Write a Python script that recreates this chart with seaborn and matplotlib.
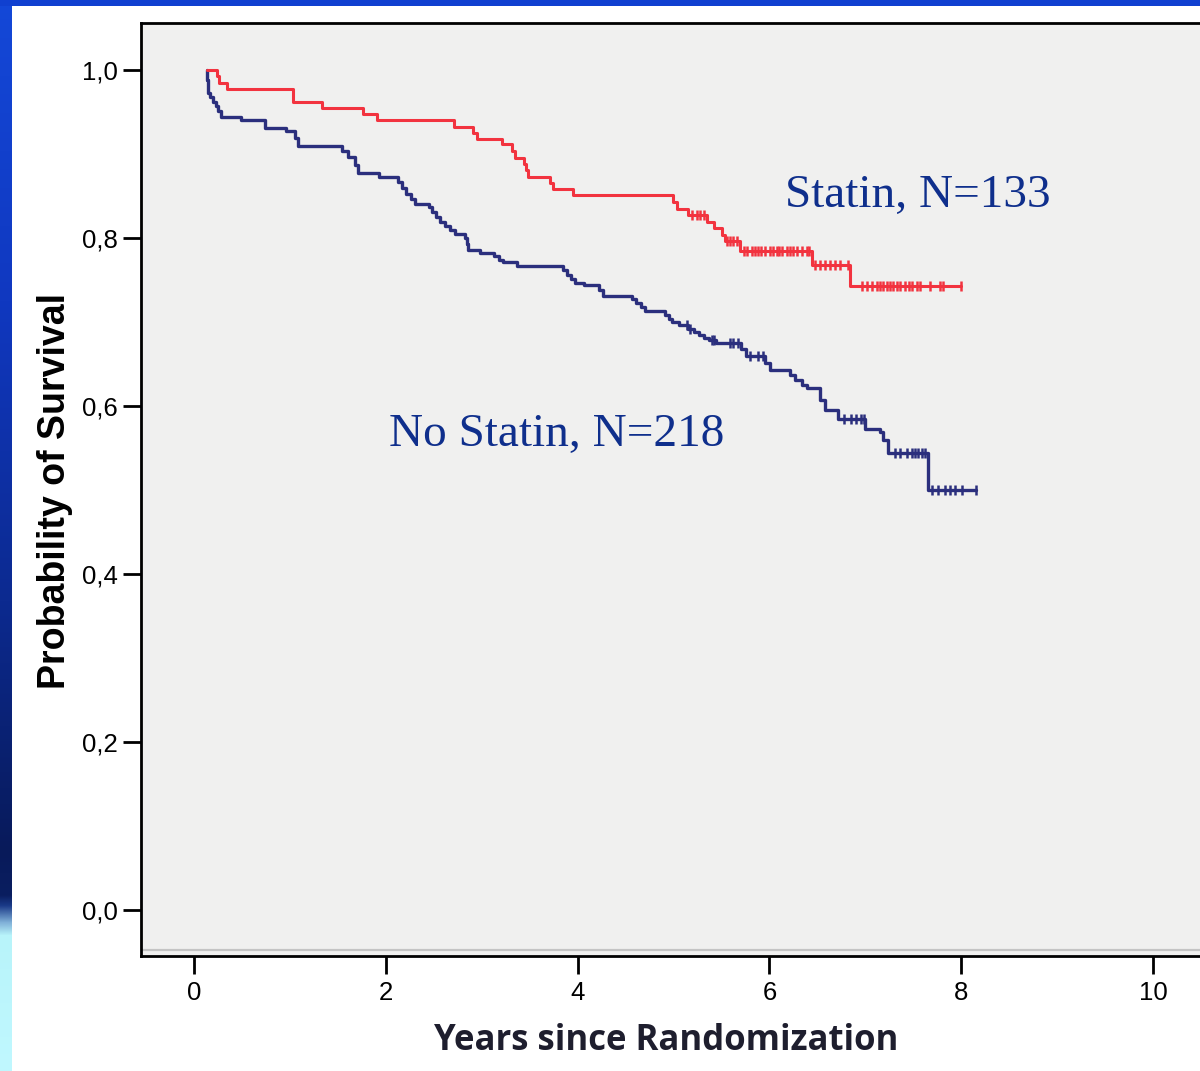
import numpy as np
import pandas as pd
import matplotlib
matplotlib.use("Agg")
import matplotlib.pyplot as plt
import seaborn as sns

# ---------------- data ----------------
statin_start = 0.136
statin_end = 7.995
statin_times = [0.235, 0.261, 0.344, 1.032, 1.335, 1.757, 1.913, 2.716, 2.914, 2.946,
                3.212, 3.316, 3.342, 3.436, 3.462, 3.483, 3.712, 3.743, 3.947, 4.998,
                5.040, 5.148, 5.346, 5.422, 5.503, 5.537, 5.693, 6.441, 6.840]
statin_surv = [0.993, 0.985, 0.978, 0.9625, 0.955, 0.948, 0.940, 0.932, 0.925, 0.918,
               0.912, 0.904, 0.895, 0.888, 0.881, 0.873, 0.866, 0.858, 0.851, 0.843,
               0.835, 0.827, 0.819, 0.812, 0.804, 0.796, 0.785, 0.768, 0.743]
statin_censor = [5.19, 5.24, 5.28, 5.32, 5.56, 5.59, 5.62, 5.66,
                 5.735, 5.766, 5.819, 5.850, 5.881, 5.912, 5.954, 6.006, 6.037, 6.079,
                 6.100, 6.131, 6.183, 6.215, 6.246, 6.288, 6.340, 6.392, 6.413,
                 6.476, 6.528, 6.580, 6.632, 6.684, 6.736, 6.819,
                 6.966, 7.018, 7.070, 7.122, 7.153, 7.185, 7.226, 7.258, 7.289, 7.331,
                 7.362, 7.414, 7.456, 7.487, 7.539, 7.570, 7.675, 7.779, 7.810, 7.995]

nostatin_start = 0.136
nostatin_end = 8.154
nostatin_times = [0.139, 0.144, 0.149, 0.167, 0.201, 0.229, 0.253, 0.278, 0.490, 0.735,
                  0.959, 1.053, 1.079, 1.548, 1.601, 1.679, 1.713, 1.929, 2.122, 2.169,
                  2.211, 2.263, 2.304, 2.445, 2.482, 2.518, 2.565, 2.617, 2.669, 2.722,
                  2.826, 2.847, 2.857, 2.987, 3.128, 3.175, 3.222, 3.368, 3.851, 3.889,
                  3.931, 3.973, 4.067, 4.218, 4.260, 4.562, 4.609, 4.656, 4.703, 4.906,
                  4.948, 4.984, 5.052, 5.151, 5.209, 5.261, 5.313, 5.365, 5.448, 5.704,
                  5.751, 5.954, 6.006, 6.215, 6.267, 6.337, 6.389, 6.528, 6.580, 6.718,
                  6.997, 7.153, 7.188, 7.240, 7.657]
nostatin_surv = [0.988, 0.980, 0.973, 0.968, 0.962, 0.957, 0.951, 0.944, 0.940, 0.931,
                 0.927, 0.919, 0.909, 0.904, 0.896, 0.887, 0.877, 0.873, 0.867, 0.860,
                 0.852, 0.846, 0.840, 0.837, 0.831, 0.825, 0.819, 0.814, 0.810, 0.805,
                 0.800, 0.793, 0.786, 0.782, 0.778, 0.774, 0.771, 0.767, 0.762, 0.756,
                 0.751, 0.746, 0.744, 0.7375, 0.7315, 0.727, 0.723, 0.718, 0.713, 0.708,
                 0.704, 0.700, 0.696, 0.692, 0.688, 0.685, 0.681, 0.678, 0.675, 0.668,
                 0.659, 0.651, 0.643, 0.637, 0.631, 0.625, 0.621, 0.607, 0.595, 0.585,
                 0.573, 0.569, 0.560, 0.544, 0.500]
nostatin_censor = [5.138, 5.172, 5.398, 5.42, 5.589, 5.620, 5.673, 5.797, 5.881, 5.933,
                   6.773, 6.846, 6.898, 6.950, 6.981,
                   7.310, 7.362, 7.435, 7.487, 7.518, 7.550, 7.591, 7.622,
                   7.696, 7.758, 7.831, 7.883, 7.935, 8.008, 8.154]

x_ticks = [0, 2, 4, 6, 8, 10]
y_ticks = [0.0, 0.2, 0.4, 0.6, 0.8, 1.0]
y_tick_labels = ["0,0", "0,2", "0,4", "0,6", "0,8", "1,0"]
label_statin = "Statin, N=133"
label_nostatin = "No Statin, N=218"
x_label = "Years since Randomization"
y_label = "Probability of Survival"

RED = "#f2333f"
NAVY = "#2b2f7d"
TEXT_BLUE = "#0f2f8c"

# ---------------- figure ----------------
sns.set_theme(style="white", rc={"axes.facecolor": "#f0f0ef"})
plt.rcParams["font.family"] = ["Liberation Sans", "DejaVu Sans"]

W, H = 1200, 1071
fig = plt.figure(figsize=(W / 100, H / 100), dpi=100, facecolor="white")

# decorative slide frame: left gradient strip + top strip
strip = fig.add_axes([0, 0, 12 / W, 1])
stops_y = [0, 300, 600, 850, 895, 905, 922, 935, 1071]
stops_c = ["#1448d8", "#1038c0", "#0c2a90", "#081a5a", "#0a1e60", "#1a3a88", "#80b0d8",
           "#b8f4fa", "#c0f8ff"]
rgb = np.array([matplotlib.colors.to_rgb(c) for c in stops_c])
yy = np.arange(H)
grad = np.stack([np.interp(yy, stops_y, rgb[:, k]) for k in range(3)], axis=1)
strip.imshow(grad[:, None, :], aspect="auto", extent=[0, 1, H, 0])
strip.set_axis_off()
top = fig.add_axes([0, 1 - 6 / H, 1, 6 / H])
top.set_facecolor("#1040d0")
top.set_xticks([]); top.set_yticks([])
for s in top.spines.values():
    s.set_visible(False)

# main axes: x from -0.553 to 10.6, left spine at px 141
x0, x1 = -0.553, 10.6
ax_left = 141 / W
ax_w = (x1 - x0) * 95.9 / W
ax_bottom = (H - 956) / H
ax_h = (956 - 23) / H
ax = fig.add_axes([ax_left, ax_bottom, ax_w, ax_h])
ax.set_xlim(x0, x1)
ax.set_ylim(-0.055, 1.056)


def curve(start, end, times, surv):
    x = [start] + list(times) + [end]
    y = [1.0] + list(surv) + [surv[-1]]
    return pd.DataFrame({"t": x, "s": y})


def censor_points(start, times, surv, ct):
    tt = np.array([start] + list(times))
    ss = np.array([1.0] + list(surv))
    idx = np.searchsorted(tt, np.array(ct), side="right") - 1
    return pd.DataFrame({"t": ct, "s": ss[idx]})


ax.axhline(-0.048, color="#c4c4c4", lw=1.6, zorder=1)

df_s = curve(statin_start, statin_end, statin_times, statin_surv)
df_n = curve(nostatin_start, nostatin_end, nostatin_times, nostatin_surv)
sns.lineplot(data=df_n, x="t", y="s", drawstyle="steps-post", estimator=None, sort=False,
             color=NAVY, linewidth=2.4, ax=ax)
sns.lineplot(data=df_s, x="t", y="s", drawstyle="steps-post", estimator=None, sort=False,
             color=RED, linewidth=2.2, ax=ax)
cs = censor_points(statin_start, statin_times, statin_surv, statin_censor)
cn = censor_points(nostatin_start, nostatin_times, nostatin_surv, nostatin_censor)
sns.scatterplot(data=cn, x="t", y="s", marker="|", s=50, linewidth=1.8, color=NAVY,
                ax=ax, zorder=3)
sns.scatterplot(data=cs, x="t", y="s", marker="|", s=50, linewidth=1.8, color=RED,
                ax=ax, zorder=3)

ax.text(6.163, 0.837, label_statin, family="Liberation Serif", fontsize=34,
        color=TEXT_BLUE, ha="left", va="baseline")
ax.text(2.033, 0.552, label_nostatin, family="Liberation Serif", fontsize=34,
        color=TEXT_BLUE, ha="left", va="baseline")

ax.set_xticks(x_ticks)
ax.set_xticklabels([str(v) for v in x_ticks])
ax.set_yticks(y_ticks)
ax.set_yticklabels(y_tick_labels)
ax.tick_params(axis="both", which="major", direction="out", length=13, width=2.0,
               color="black", labelsize=18.5, labelcolor="black",
               bottom=True, left=True, top=False, right=False)
ax.tick_params(axis="y", pad=3.5)
ax.tick_params(axis="x", pad=5)
ax.set_xlabel("")
ax.set_ylabel("")
for name, sp in ax.spines.items():
    sp.set_visible(True)
    sp.set_color("black")
    sp.set_linewidth(2.0)

fig.text(55 / W, 1 - 491 / H, y_label, rotation=90, ha="center", va="center",
         fontsize=27, fontweight="bold", color="black", family=["Liberation Sans", "DejaVu Sans"])
fig.text(666 / W, 1 - 1041 / H, x_label, ha="center", va="center", fontsize=25,
         fontweight="bold", color="#1e1e2e", family=["Open Sans", "DejaVu Sans"])

fig.savefig("out.png", dpi=100, facecolor="white")
